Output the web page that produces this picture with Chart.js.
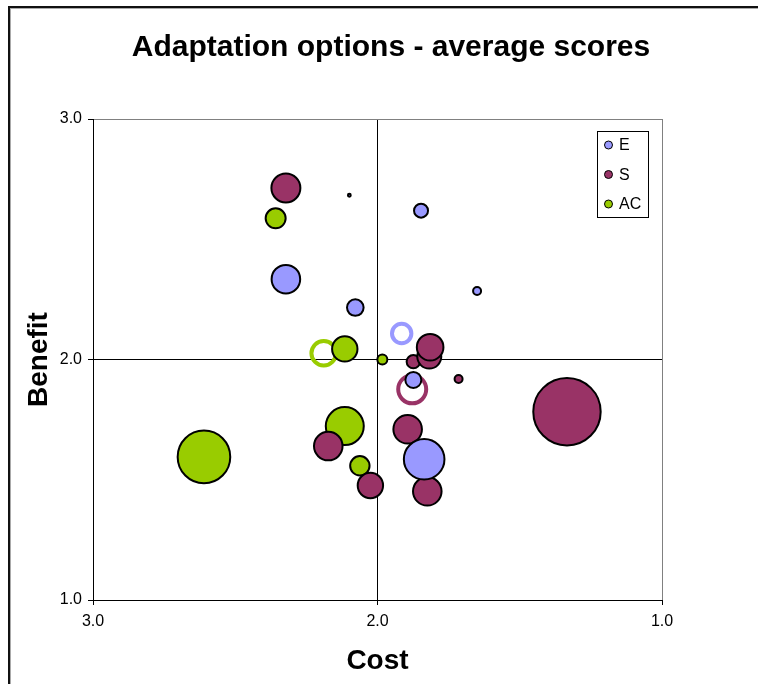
<!DOCTYPE html>
<html>
<head>
<meta charset="utf-8">
<script src="https://cdn.jsdelivr.net/npm/chart.js@4/dist/chart.umd.min.js"></script>
<style>
  html, body { margin: 0; padding: 0; background: #fff; }
  canvas { display: block; }
</style>
</head>
<body>
<canvas id="c" width="758" height="684"></canvas>
<script>
// Average cost / benefit scores per adaptation option, grouped by dimension.
const seriesNames = ['E', 'S', 'AC'];

const costE    = [2.099, 1.847, 2.322, 2.078, 1.650, 1.874, 1.836];
const benefitE = [2.683, 2.619, 2.334, 2.216, 2.285, 1.915, 1.585];
const sizeE    = [0.02, 0.49, 2.04, 0.69, 0.16, 0.64, 4.12];

const costS    = [2.322, 2.173, 2.025, 1.894, 1.825, 1.874, 1.818, 1.815, 1.715, 1.334];
const benefitS = [2.713, 1.640, 1.476, 1.710, 1.452, 1.991, 2.012, 2.051, 1.919, 1.783];
const sizeS    = [2.10, 2.04, 1.61, 2.04, 2.04, 0.45, 1.44, 1.77, 0.16, 11.36];

const costAC    = [2.358, 2.115, 1.983, 2.610, 2.115, 2.062];
const benefitAC = [2.587, 2.044, 2.000, 1.595, 1.723, 1.558];
const sizeAC    = [1.00, 1.61, 0.25, 6.92, 3.61, 0.94];

// Overall average of each group (E, S, AC)
const avgCost    = [1.915, 1.878, 2.189];
const avgBenefit = [2.108, 1.876, 2.026];
const avgSize    = [0.94, 1.96, 1.51];

const axisTicks = [1.0, 2.0, 3.0];

const COLORS = { E: '#9999FF', S: '#993366', AC: '#99CC00' };
const FONT = "'Liberation Sans', Arial, sans-serif";
const radiusOf = s => 10 * Math.sqrt(s);

function points(cost, benefit, size) {
  return cost.map((x, i) => ({ x, y: benefit[i], r: radiusOf(size[i]) }));
}

const groups = [
  { name: 'E',  cost: costE,  benefit: benefitE,  size: sizeE },
  { name: 'S',  cost: costS,  benefit: benefitS,  size: sizeS },
  { name: 'AC', cost: costAC, benefit: benefitAC, size: sizeAC }
];

const datasets = groups.map(g => ({
  label: g.name,
  data: points(g.cost, g.benefit, g.size),
  backgroundColor: COLORS[g.name],
  borderColor: '#000',
  borderWidth: 2,
  clip: false
}));

seriesNames.forEach((name, i) => {
  datasets.push({
    label: name + ' average',
    data: [{ x: avgCost[i], y: avgBenefit[i], r: radiusOf(avgSize[i]) }],
    backgroundColor: 'rgba(0,0,0,0)',
    borderColor: COLORS[name],
    borderWidth: 4,
    clip: false
  });
});

// white page with the dark frame along the top and left edges
const framePlugin = {
  id: 'frame',
  beforeDraw(chart) {
    const c = chart.ctx;
    c.save();
    c.fillStyle = '#fff';
    c.fillRect(0, 0, chart.width, chart.height);
    c.fillStyle = '#111';
    c.fillRect(8, 6, chart.width - 8, 2);
    c.fillRect(8, 6, 2, chart.height - 6);
    c.fillStyle = '#aaa';
    c.fillRect(10, 8, chart.width - 10, 1);
    c.fillRect(10, 8, 1, chart.height - 8);
    c.restore();
  }
};

const titlePlugin = {
  id: 'mainTitle',
  afterDraw(chart) {
    const c = chart.ctx;
    c.save();
    c.fillStyle = '#000';
    c.font = "bold 30px " + FONT;
    c.textAlign = 'center';
    c.textBaseline = 'middle';
    c.fillText('Adaptation options - average scores', 391, 48);
    c.restore();
  }
};

// boxed legend inside the top-right corner of the plot
const legendPlugin = {
  id: 'boxLegend',
  afterDatasetsDraw(chart) {
    const c = chart.ctx;
    const x0 = 597.5, y0 = 131.5, w = 51, h = 86;
    c.save();
    c.fillStyle = '#fff';
    c.fillRect(x0, y0, w, h);
    c.strokeStyle = '#000';
    c.lineWidth = 1;
    c.strokeRect(x0, y0, w, h);
    c.font = "16px " + FONT;
    c.textBaseline = 'middle';
    c.textAlign = 'left';
    seriesNames.forEach((name, i) => {
      const cy = 145 + i * 29.5;
      c.beginPath();
      c.arc(608.5, cy, 4, 0, Math.PI * 2);
      c.fillStyle = COLORS[name];
      c.fill();
      c.lineWidth = 1;
      c.strokeStyle = '#000';
      c.stroke();
      c.fillStyle = '#000';
      c.fillText(name, 619, cy + 1);
    });
    c.restore();
  }
};

const lineAt = (mid, edge) => ctx => {
  const v = ctx.tick.value;
  if (v === mid) return '#000';
  if (v === edge) return '#808080';
  return 'rgba(0,0,0,0)';
};

new Chart(document.getElementById('c'), {
  type: 'bubble',
  data: { datasets },
  options: {
    responsive: false,
    animation: false,
    devicePixelRatio: 1,
    layout: { padding: { left: 0, right: 96, top: 119, bottom: 0 } },
    plugins: {
      legend: { display: false },
      title: { display: false },
      tooltip: { enabled: false }
    },
    scales: {
      x: {
        type: 'linear',
        reverse: true,
        min: axisTicks[0],
        max: axisTicks[axisTicks.length - 1],
        afterBuildTicks: s => { s.ticks = axisTicks.map(v => ({ value: v })); },
        afterFit: s => { s.height = 84; },
        ticks: {
          color: '#000',
          font: { family: FONT, size: 16 },
          padding: 7,
          maxRotation: 0,
          callback: v => Number(v).toFixed(1)
        },
        grid: { color: lineAt(2, 1), tickColor: '#000', tickLength: 5, lineWidth: 1 },
        border: { color: '#000', width: 1 },
        title: {
          display: true,
          text: 'Cost',
          color: '#000',
          font: { family: FONT, size: 28, weight: 'bold' },
          padding: { top: 0, bottom: 6 }
        }
      },
      y: {
        type: 'linear',
        min: axisTicks[0],
        max: axisTicks[axisTicks.length - 1],
        afterBuildTicks: s => { s.ticks = axisTicks.map(v => ({ value: v })); },
        afterFit: s => { s.width = 93; },
        ticks: {
          color: '#000',
          font: { family: FONT, size: 16 },
          padding: 6,
          callback: v => Number(v).toFixed(1)
        },
        grid: { color: lineAt(2, 3), tickColor: '#000', tickLength: 5, lineWidth: 1 },
        border: { color: '#000', width: 1 },
        title: {
          display: true,
          text: 'Benefit',
          color: '#000',
          font: { family: FONT, size: 28, weight: 'bold' },
          padding: { top: 22, bottom: 0 }
        }
      }
    }
  },
  plugins: [framePlugin, titlePlugin, legendPlugin]
});
</script>
</body>
</html>
